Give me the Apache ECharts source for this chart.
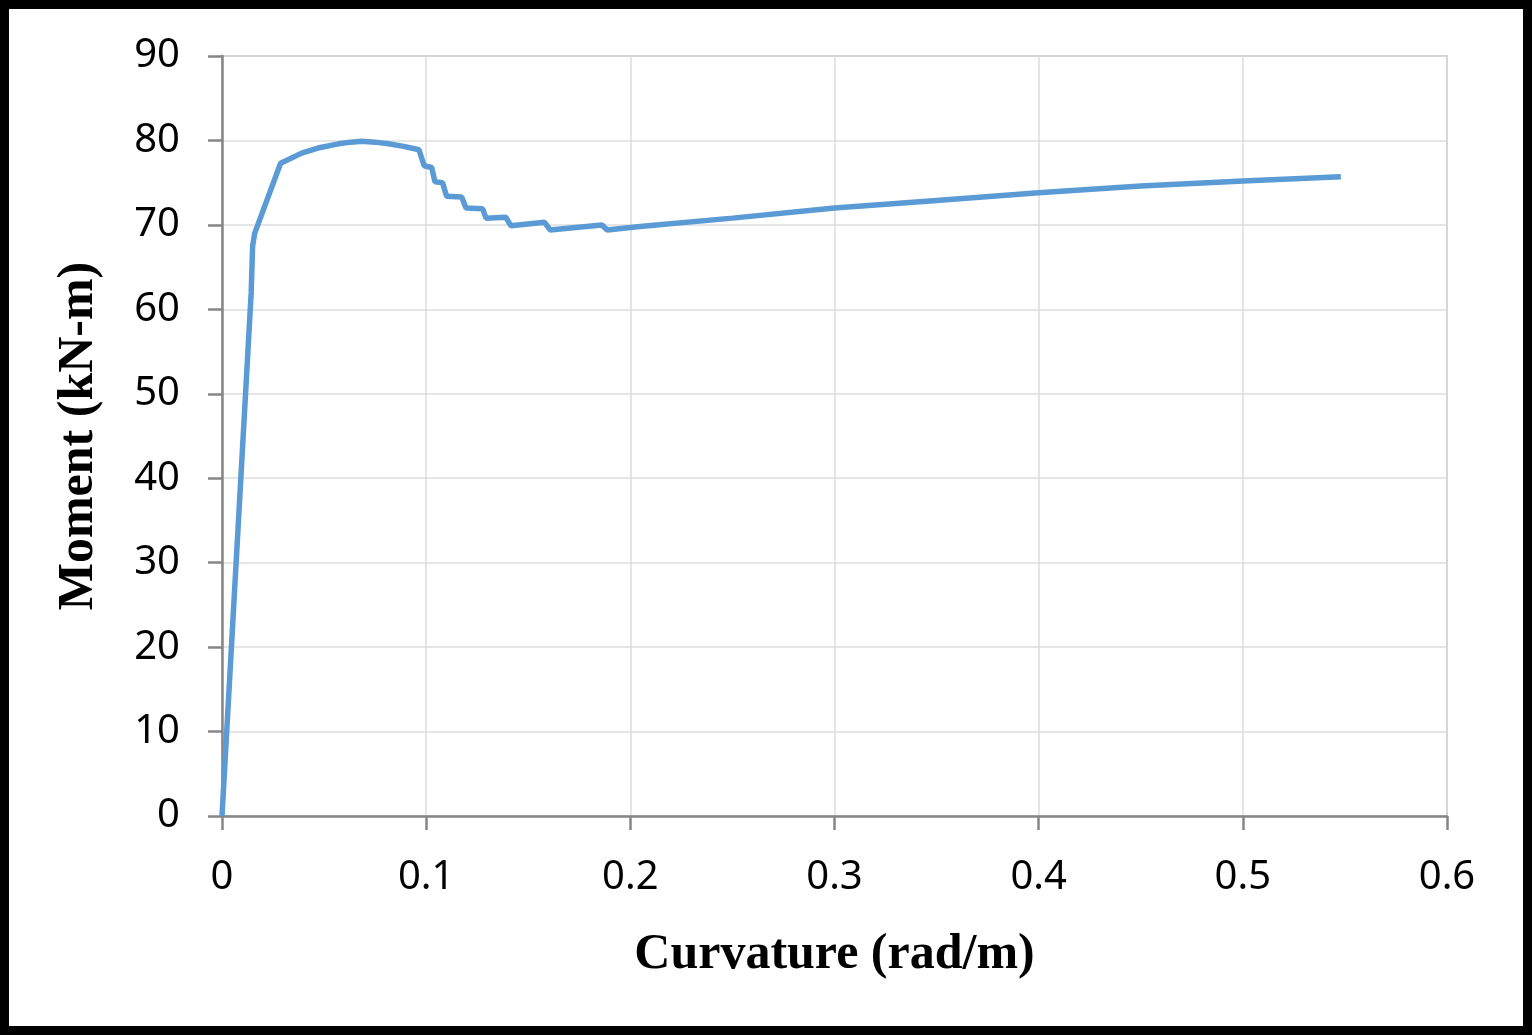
<!DOCTYPE html>
<html>
<head>
<meta charset="utf-8">
<script src="https://cdn.jsdelivr.net/npm/echarts@6/dist/echarts.min.js"></script>
<style>
  html, body { margin: 0; padding: 0; background: #fff; }
  #wrap { position: relative; width: 1532px; height: 1035px; }
  #chart { position: absolute; left: 0; top: 0; width: 1532px; height: 1035px; }
  #frame { position: absolute; left: 0; top: 0; width: 1532px; height: 1035px;
           box-sizing: border-box; border: 9px solid #000; pointer-events: none; }
</style>
</head>
<body>
<div id="wrap">
  <div id="chart"></div>
  <div id="frame"></div>
</div>
<script>
// moment-curvature curve, values
const curvature = [
  0, 0.0143, 0.0150, 0.0160, 0.0287, 0.039, 0.047, 0.057, 0.063, 0.0684,
  0.075, 0.0815, 0.089, 0.0965,
  0.099, 0.1027, 0.1043, 0.108, 0.110, 0.1174, 0.1195, 0.1277, 0.1293, 0.139,
  0.1415, 0.158, 0.1607, 0.186, 0.1887, 0.2047, 0.25, 0.30, 0.35, 0.40,
  0.45, 0.50, 0.548
];
const moment = [
  0, 62.0, 67.5, 69.0, 77.3, 78.5, 79.1, 79.6, 79.8, 79.9,
  79.8, 79.6, 79.3, 78.9,
  77.0, 76.8, 75.1, 75.0, 73.4, 73.3, 72.0, 71.9, 70.8, 70.9,
  69.9, 70.3, 69.4, 70.0, 69.4, 69.8, 70.8, 72.0, 72.9, 73.8,
  74.6, 75.2, 75.7
];

const xTicks = { min: 0, max: 0.6, interval: 0.1 };
const yTicks = { min: 0, max: 90, interval: 10 };

const chart = echarts.init(document.getElementById("chart"));

chart.setOption({
  backgroundColor: "#fff",
  animation: false,
  grid: {
    left: 222, right: 85, top: 56, bottom: 219,
    show: true, borderColor: "#b0b0b0", borderWidth: 1.5
  },
  xAxis: {
    type: "value",
    ...xTicks,
    name: "Curvature (rad/m)",
    nameLocation: "middle",
    nameGap: 114,
    nameTextStyle: { fontFamily: "Liberation Serif", fontWeight: "bold", fontSize: 50, color: "#000" },
    axisLine: { show: true, onZero: false, lineStyle: { color: "#868686", width: 2.5 } },
    axisTick: { show: true, length: 14, lineStyle: { color: "#868686", width: 2.5 } },
    axisLabel: {
      fontFamily: "Noto Sans", fontSize: 40, color: "#000", margin: 42,
      formatter: (v) => String(+v.toFixed(1))
    },
    splitLine: { show: true, lineStyle: { color: "#dcdcdc", width: 1.5 } }
  },
  yAxis: {
    type: "value",
    ...yTicks,
    name: "Moment (kN-m)",
    nameLocation: "middle",
    nameGap: 118,
    nameTextStyle: { fontFamily: "Liberation Serif", fontWeight: "bold", fontSize: 50, color: "#000" },
    axisLine: { show: true, lineStyle: { color: "#868686", width: 2.5 } },
    axisTick: { show: true, length: 14, lineStyle: { color: "#868686", width: 2.5 } },
    axisLabel: { fontFamily: "Noto Sans", fontSize: 40, color: "#000", margin: 42 },
    splitLine: { show: true, lineStyle: { color: "#dcdcdc", width: 1.5 } }
  },
  series: [
    {
      type: "line",
      data: curvature.map((c, i) => [c, moment[i]]),
      showSymbol: false,
      smooth: false,
      lineStyle: { color: "#5B9BD5", width: 5.5 }
    }
  ]
});
</script>
</body>
</html>
